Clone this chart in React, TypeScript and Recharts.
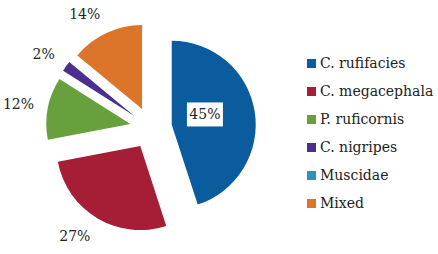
import { PieChart, Pie, Cell, Sector, Legend } from "recharts"

const species = ["C. rufifacies", "C. megacephala", "P. ruficornis", "C. nigripes", "Muscidae", "Mixed"]
const shares = [45, 27, 12, 2, 0, 14]
const colors = ["#0b5c9e", "#a51e36", "#67a03c", "#4b2f8e", "#2399b8", "#dc7429"]

const data = species.map((name, i) => ({ name, value: shares[i] }))

const FONT = "'DejaVu Serif', serif"
const EXPLODE = 21
const RAD = Math.PI / 180

// pulls every slice out along its own bisector
function ExplodedSector(props: any) {
	const { cx, cy, midAngle } = props
	const dx = EXPLODE * Math.cos(-midAngle * RAD)
	const dy = EXPLODE * Math.sin(-midAngle * RAD)
	return <Sector {...props} cx={cx + dx} cy={cy + dy} />
}

function SliceLabel(props: any) {
	const { cx, cy, midAngle, outerRadius, index, value } = props
	if (!value) return null
	const cos = Math.cos(-midAngle * RAD)
	const sin = Math.sin(-midAngle * RAD)
	const ox = cx + EXPLODE * cos
	const oy = cy + EXPLODE * sin
	if (index === 0) {
		const x = ox + outerRadius * 0.4 * cos
		const y = oy + outerRadius * 0.4 * sin - 5
		return (
			<g>
				<rect x={x - 18} y={y - 12} width={36} height={24} fill="#fff" />
				<text x={x} y={y} textAnchor="middle" dominantBaseline="central" fontFamily={FONT} fontSize={14} fill="#222">
					{value}%
				</text>
			</g>
		)
	}
	// outside end: the label's near side sits on the anchor point
	const r = outerRadius + 14
	const ax = ox + r * cos
	const ay = oy + r * sin + sin * 7
	return (
		<text x={ax} y={ay} textAnchor={cos < 0 ? "end" : "start"} dominantBaseline="central" fontFamily={FONT} fontSize={14} fill="#222">
			{value}%
		</text>
	)
}

function LegendList() {
	return (
		<div style={{ fontFamily: FONT, fontSize: 14, color: "#222" }}>
			{species.map((name, i) => (
				<div key={name} style={{ display: "flex", alignItems: "center", height: 28 }}>
					<span style={{ width: 9, height: 9, background: colors[i], marginRight: 4, display: "inline-block" }} />
					<span>{name}</span>
				</div>
			))}
		</div>
	)
}

export default function App() {
	return (
		<div style={{ position: "absolute", left: 0, top: 0, background: "#fff" }}>
			<PieChart width={438} height={254} margin={{ top: 0, right: 0, bottom: 0, left: 0 }}>
				<Pie
					data={data}
					dataKey="value"
					nameKey="name"
					cx={151}
					cy={128}
					outerRadius={84}
					startAngle={90}
					endAngle={-270}
					stroke="none"
					shape={ExplodedSector}
					label={SliceLabel}
					labelLine={false}
					isAnimationActive={false}
				>
					{data.map((entry, index) => (
						<Cell key={`cell-${index}`} fill={colors[index]} />
					))}
				</Pie>
				<Legend
					layout="vertical"
					content={LegendList}
					wrapperStyle={{ left: 307, top: 49, width: 131 }}
				/>
			</PieChart>
		</div>
	)
}
